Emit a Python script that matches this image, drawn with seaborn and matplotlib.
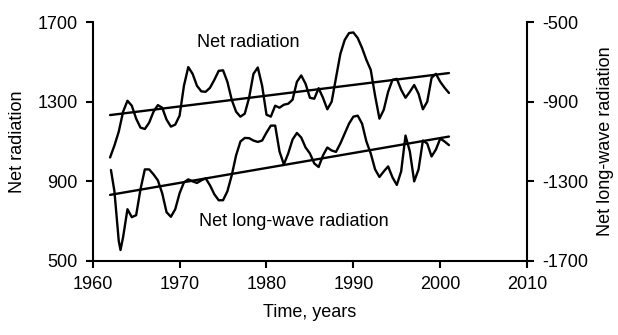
import matplotlib
matplotlib.use("Agg")
import matplotlib.pyplot as plt
import seaborn as sns
import pandas as pd

# ---- data ----
net_years = [1962.0, 1962.5, 1963.0, 1963.5, 1964.0, 1964.5, 1965.0, 1965.5, 1966.0, 1966.5,
             1967.0, 1967.5, 1968.0, 1968.5, 1969.0, 1969.5, 1970.0, 1970.5, 1971.0, 1971.5,
             1972.0, 1972.5, 1973.0, 1973.5, 1974.0, 1974.5, 1975.0, 1975.5, 1976.0, 1976.5,
             1977.0, 1977.5, 1978.0, 1978.5, 1979.0, 1979.5, 1980.0, 1980.5, 1981.0, 1981.5,
             1982.0, 1982.5, 1983.0, 1983.5, 1984.0, 1984.5, 1985.0, 1985.5, 1986.0, 1986.5,
             1987.0, 1987.5, 1988.0, 1988.5, 1989.0, 1989.5, 1990.0, 1990.5, 1991.0, 1991.5,
             1992.0, 1992.5, 1993.0, 1993.5, 1994.0, 1994.5, 1995.0, 1995.5, 1996.0, 1996.5,
             1997.0, 1997.5, 1998.0, 1998.5, 1999.0, 1999.5, 2000.0, 2000.5, 2001.0]
net_radiation = [1020, 1080, 1150, 1250, 1305, 1280, 1215, 1170, 1163, 1195,
                 1250, 1283, 1270, 1210, 1175, 1185, 1230, 1380, 1474, 1440,
                 1380, 1352, 1350, 1370, 1410, 1455, 1458, 1400, 1310, 1250,
                 1225, 1240, 1320, 1440, 1472, 1380, 1235, 1225, 1280, 1270,
                 1285, 1290, 1310, 1400, 1432, 1390, 1320, 1315, 1368, 1320,
                 1262, 1300, 1420, 1540, 1610, 1645, 1648, 1620, 1570, 1510,
                 1460, 1330, 1215, 1260, 1350, 1410, 1415, 1360, 1320, 1350,
                 1384, 1340, 1262, 1300, 1420, 1440, 1400, 1370, 1344]

lw_years = [1962.1, 1962.5, 1963.0, 1963.2, 1963.5, 1964.0, 1964.5, 1965.0, 1965.5, 1966.0,
            1966.5, 1967.0, 1967.5, 1968.0, 1968.5, 1969.0, 1969.5, 1970.0, 1970.5, 1971.0,
            1971.5, 1972.0, 1972.5, 1973.0, 1973.5, 1974.0, 1974.5, 1975.0, 1975.5, 1976.0,
            1976.5, 1977.0, 1977.5, 1978.0, 1978.5, 1979.0, 1979.5, 1980.0, 1980.5, 1981.0,
            1981.5, 1982.0, 1982.5, 1983.0, 1983.5, 1984.0, 1984.5, 1985.0, 1985.5, 1986.0,
            1986.5, 1987.0, 1987.5, 1988.0, 1988.5, 1989.0, 1989.5, 1990.0, 1990.5, 1991.0,
            1991.5, 1992.0, 1992.5, 1993.0, 1993.5, 1994.0, 1994.5, 1995.0, 1995.5, 1996.0,
            1996.5, 1997.0, 1997.5, 1998.0, 1998.5, 1999.0, 1999.5, 2000.0, 2000.5, 2001.0]
net_longwave = [-1243, -1350, -1600, -1645, -1580, -1440, -1480, -1470, -1340, -1240,
                -1240, -1265, -1295, -1360, -1455, -1478, -1440, -1360, -1305, -1290,
                -1300, -1308, -1295, -1285, -1320, -1365, -1395, -1395, -1350, -1270,
                -1170, -1100, -1082, -1083, -1095, -1102, -1095, -1055, -1020, -1020,
                -1150, -1215, -1160, -1090, -1057, -1080, -1130, -1160, -1210, -1228,
                -1170, -1130, -1145, -1152, -1110, -1060, -1010, -975, -970, -1010,
                -1100, -1160, -1240, -1278, -1250, -1225, -1280, -1318, -1250, -1070,
                -1150, -1300, -1240, -1095, -1110, -1175, -1140, -1085, -1100, -1118]

trend_years = [1962, 2001]
net_trend = [1233, 1444]
lw_trend = [-1368, -1075]

x_ticks = [1960, 1970, 1980, 1990, 2000, 2010]
left_ticks = [500, 900, 1300, 1700]
right_ticks = [-1700, -1300, -900, -500]

# ---- plotting ----
sns.set_style("ticks")
plt.rcParams["font.family"] = ["Liberation Sans", "DejaVu Sans"]
plt.rcParams["font.size"] = 13
plt.rcParams["text.color"] = "black"
plt.rcParams["axes.labelcolor"] = "black"
plt.rcParams["xtick.color"] = "black"
plt.rcParams["ytick.color"] = "black"
plt.rcParams["axes.unicode_minus"] = False

fig = plt.figure(figsize=(6.18, 3.35), dpi=100)
ax = fig.add_axes([0.150, 0.221, 0.703, 0.713])
ax2 = ax.twinx()

df_net = pd.DataFrame({"year": net_years, "value": net_radiation})
df_lw = pd.DataFrame({"year": lw_years, "value": net_longwave})
df_nt = pd.DataFrame({"year": trend_years, "value": net_trend})
df_lt = pd.DataFrame({"year": trend_years, "value": lw_trend})

kw = dict(color="black", linewidth=1.7, estimator=None, sort=False)
sns.lineplot(data=df_net, x="year", y="value", ax=ax, solid_joinstyle="round", **kw)
sns.lineplot(data=df_nt, x="year", y="value", ax=ax, **kw)
sns.lineplot(data=df_lw, x="year", y="value", ax=ax2, solid_joinstyle="round", **kw)
sns.lineplot(data=df_lt, x="year", y="value", ax=ax2, **kw)

ax.set_xlim(1960, 2010)
ax.set_ylim(500, 1700)
ax2.set_ylim(-1700, -500)
ax.set_xticks(x_ticks)
ax.set_yticks(left_ticks)
ax2.set_yticks(right_ticks)

for a in (ax, ax2):
    a.spines["top"].set_visible(False)
    for s in a.spines.values():
        s.set_linewidth(1.5)
        s.set_color("black")
    a.tick_params(width=1.5, length=5, pad=6, labelsize=13, colors="black")
ax.spines["right"].set_visible(False)
ax2.spines["left"].set_visible(False)
ax2.spines["bottom"].set_visible(False)

ax.set_xlabel("Time, years", fontsize=13, labelpad=8, color="black")
ax.set_ylabel("Net radiation", fontsize=13, labelpad=8, color="black")
ax2.set_ylabel("Net long-wave radiation", fontsize=13, labelpad=6, color="black")

ax.text(1977.9, 1600, "Net radiation", ha="center", va="center", fontsize=13, color="black")
ax.text(1983.2, 696, "Net long-wave radiation", ha="center", va="center", fontsize=13, color="black")

fig.savefig("out.png", dpi=100)
